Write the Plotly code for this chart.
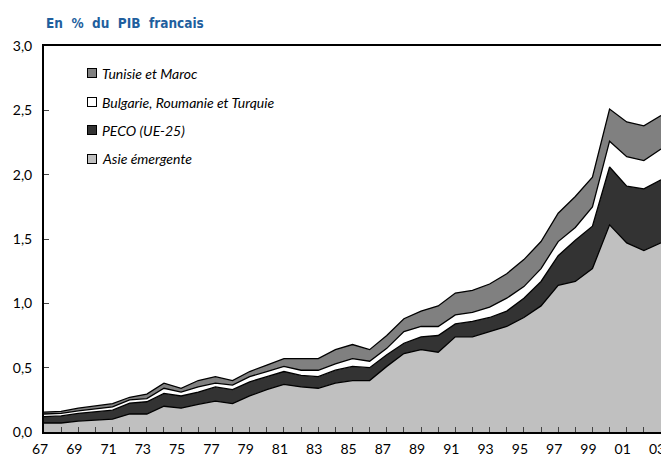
import plotly.graph_objects as go

years = list(range(1967, 2004))
tick_labels = [f"{y % 100:02d}" if (y - 1967) % 2 == 0 else "" for y in years]

asie = [0.07, 0.07, 0.085, 0.095, 0.10, 0.14, 0.14, 0.20, 0.185, 0.215,
        0.24, 0.22, 0.28, 0.33, 0.37, 0.35, 0.34, 0.38, 0.40, 0.40,
        0.51, 0.61, 0.64, 0.62, 0.74, 0.74, 0.78, 0.82, 0.89, 0.98,
        1.14, 1.17, 1.27, 1.61, 1.47, 1.41, 1.47]
peco = [0.05, 0.055, 0.06, 0.06, 0.07, 0.085, 0.095, 0.10, 0.095, 0.095,
        0.11, 0.11, 0.11, 0.10, 0.10, 0.09, 0.09, 0.10, 0.11, 0.10,
        0.09, 0.08, 0.10, 0.13, 0.10, 0.12, 0.11, 0.12, 0.15, 0.19,
        0.23, 0.32, 0.33, 0.45, 0.44, 0.48, 0.49]
bulgarie = [0.02, 0.02, 0.02, 0.025, 0.025, 0.025, 0.025, 0.04, 0.03, 0.04,
            0.03, 0.035, 0.04, 0.04, 0.04, 0.04, 0.05, 0.05, 0.06, 0.05,
            0.05, 0.09, 0.08, 0.07, 0.07, 0.07, 0.08, 0.10, 0.09, 0.10,
            0.11, 0.10, 0.15, 0.20, 0.23, 0.22, 0.24]
tunisie = [0.015, 0.015, 0.02, 0.02, 0.025, 0.02, 0.035, 0.04, 0.03, 0.05,
           0.05, 0.035, 0.04, 0.05, 0.06, 0.09, 0.09, 0.11, 0.11, 0.09,
           0.10, 0.10, 0.12, 0.16, 0.17, 0.17, 0.18, 0.19, 0.21, 0.21,
           0.22, 0.24, 0.23, 0.25, 0.27, 0.27, 0.26]

series = [
    ("Asie émergente", asie, "#c0c0c0"),
    ("PECO (UE-25)", peco, "#333333"),
    ("Bulgarie, Roumanie et Turquie", bulgarie, "#ffffff"),
    ("Tunisie et Maroc", tunisie, "#808080"),
]

fig = go.Figure()
for name, vals, col in series:
    fig.add_trace(go.Scatter(
        x=years, y=vals, name=name, stackgroup="one", mode="lines",
        line=dict(color="black", width=1.3), fillcolor=col, showlegend=False,
        hoverinfo="skip"))

# legend drawn as annotations (swatch boxes + italic labels)
legend_y = [0.9288, 0.8549, 0.7811, 0.7073]
annotations = []
for (name, vals, col), yy in zip(reversed(series), legend_y):
    annotations.append(dict(
        x=0.0786, y=yy, xref="paper", yref="paper", text=" ",
        showarrow=False, width=8, height=8, bgcolor=col,
        bordercolor="black", borderwidth=1, borderpad=0,
        xanchor="center", yanchor="middle", font=dict(size=6)))
    annotations.append(dict(
        x=0.0905, y=yy, xref="paper", yref="paper", text=name,
        showarrow=False, xanchor="left", yanchor="middle",
        font=dict(family="Lato, sans-serif", size=14, style="italic",
                  color="black")))

# title as annotation above the plot's left edge
annotations.append(dict(
    x=0, y=1.06, xref="paper", yref="paper", xanchor="left", yanchor="middle",
    showarrow=False,
    text="<b>En\u00a0\u00a0%\u00a0\u00a0du\u00a0\u00a0PIB\u00a0\u00a0francais</b>",
    font=dict(family="Liberation Sans Narrow, DejaVu Sans Condensed, sans-serif",
              size=13.5, color="#1f5f9e")))

# page body has an 8px default margin: size the figure so the plot area
# lands where the reference has it inside the 669x466 window
fig.update_layout(
    width=669, height=458,
    margin=dict(l=36, r=16, t=38, b=34),
    paper_bgcolor="white", plot_bgcolor="white",
    separators=", ",
    font=dict(family="Lato, sans-serif", size=14, color="black"),
    annotations=annotations,
    showlegend=False,
)

fig.update_xaxes(
    range=[1967, 2003], tickvals=years, ticktext=tick_labels,
    ticks="inside", ticklen=5, tickcolor="#444", tickwidth=1,
    showline=True, linecolor="black", linewidth=2, mirror=True,
    showgrid=False, zeroline=False, ticklabelstandoff=3, automargin=False,
    ticklabeloverflow="allow", ticklabelshift=-4, tickfont=dict(size=14))
fig.update_yaxes(
    range=[0, 3], tickvals=[0, 0.5, 1, 1.5, 2, 2.5, 3], tickformat=".1f",
    ticks="inside", ticklen=5, tickcolor="#444", tickwidth=1,
    showline=True, linecolor="black", linewidth=2, mirror=True,
    showgrid=False, zeroline=False, automargin=False, ticklabelstandoff=7,
    tickfont=dict(size=14))

fig.write_html("out.html")
